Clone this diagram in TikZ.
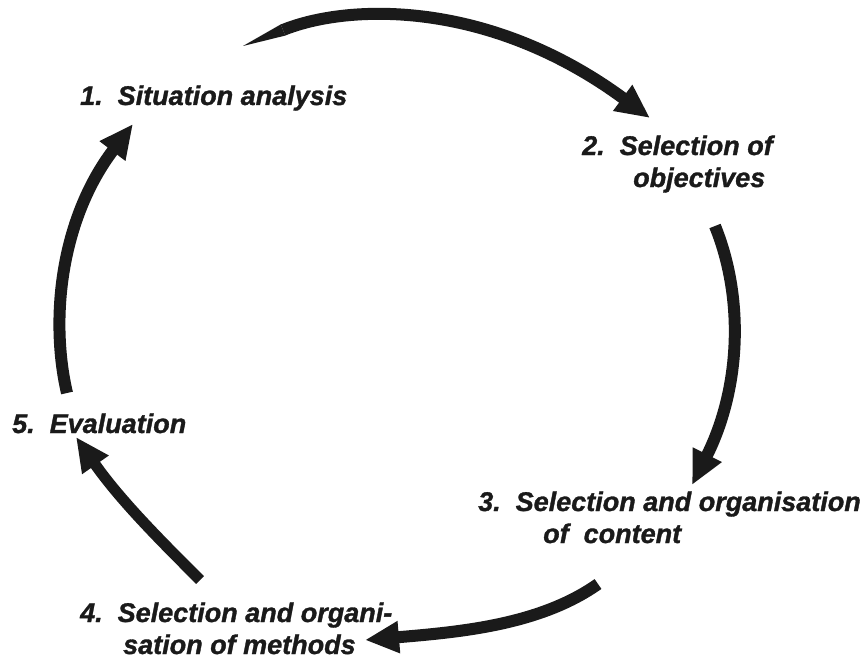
\documentclass[tikz,border=0pt]{standalone}
\usepackage{fontspec}
\setmainfont{Liberation Sans}[BoldItalicFeatures={FakeBold=1.2}]
\usetikzlibrary{arrows.meta}
\definecolor{ink}{RGB}{26,26,26}
\begin{document}
\begin{tikzpicture}[x=1pt,y=-1pt,
  lab/.style={inner sep=0pt, anchor=base west, align=left,
    font=\fontsize{27}{32}\selectfont\bfseries\itshape, text=ink},
  cyc/.style={draw=ink, line width=12pt, line cap=butt,
    -{Triangle[width=30pt,length=34pt]}}]
\useasboundingbox (0,0) rectangle (864,663);

% labels (base anchor = baseline of the last line)
\node[lab] (t1) at (80,105) {1.\ \ Situation analysis};
\node[lab] (t2) at (582,187) {2.\ \ Selection of\\\hspace*{51pt}objectives};
\node[lab] (t3) at (478,543) {3.\ \ Selection and organisation\\\hspace*{65pt}of\ \ content};
\node[lab] (t4) at (80,654) {4.\ \ Selection and organi-\\\hspace*{43pt}sation of methods};
\node[lab] (t5) at (12,433) {5.\ \ Evaluation};

% arrow end points
\coordinate (a1s) at (243,46);
\coordinate (a1q) at (283,30);
\coordinate (a1e) at (650,118);
\coordinate (a2s) at (715,226);
\coordinate (a2e) at (692,485);
\coordinate (a3s) at (598,584);
\coordinate (a3e) at (365,640);
\coordinate (a4s) at (200,580);
\coordinate (a4e) at (76,437);
\coordinate (a5s) at (67,393);
\coordinate (a5e) at (133,124);

% arrows of the cycle
\fill[ink] (a1s) -- (280.8,24.4) -- (285.2,35.6) -- cycle;
\draw[cyc] (a1q) .. controls (350,3) and (490,0) .. (a1e);
\draw[cyc] (a2s) .. controls (745,300) and (740,390) .. (a2e);
\draw[cyc] (a3s) .. controls (540,625) and (460,632) .. (a3e);
\draw[cyc, line width=11pt] (a4s) .. controls (160,540) and (120,500) .. (a4e);
\draw[cyc] (a5s) .. controls (50,320) and (60,220) .. (a5e);
\end{tikzpicture}
\end{document}
